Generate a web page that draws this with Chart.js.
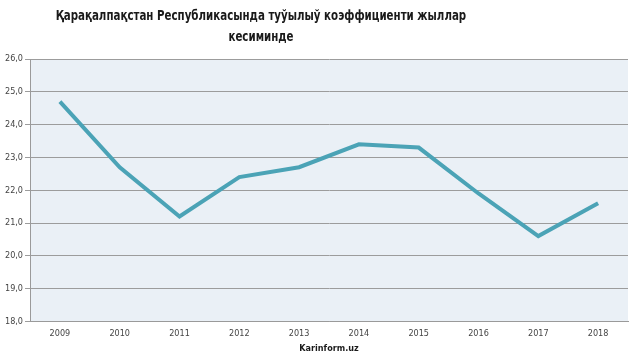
<!DOCTYPE html>
<html>
<head>
<meta charset="utf-8">
<script src="https://cdn.jsdelivr.net/npm/chart.js@4"></script>
<style>
  html, body { margin: 0; padding: 0; background: #fff; }
  #wrap { position: relative; width: 640px; height: 362px; }
  #title {
    position: absolute; left: 261px; top: 5px;
    font: bold 13.5px 'DejaVu Sans Condensed', 'Liberation Sans', sans-serif;
    line-height: 21px; color: #1a1a1a; text-align: center; white-space: nowrap;
    transform-origin: center top;
  }
</style>
</head>
<body>
<div id="wrap">
  <canvas id="chart"></canvas>
  <div id="title"></div>
</div>
<script>
const years = ["2009", "2010", "2011", "2012", "2013", "2014", "2015", "2016", "2017", "2018"];
const birthRate = [24.7, 22.7, 21.2, 22.4, 22.7, 23.4, 23.3, 21.9, 20.6, 21.6];
const titleLines = ["Қарақалпақстан Республикасында туўылыў коэффициенти жыллар", "кесиминде"];
const sourceLabel = "Karinform.uz";

const FONT = "'Liberation Sans Narrow', 'DejaVu Sans Condensed', 'Liberation Sans', sans-serif";

// title sits left of centre in the original, squeezed to ~410px
const titleEl = document.getElementById("title");
titleEl.innerHTML = titleLines.map(s => `<div>${s}</div>`).join("");
const tw = titleEl.offsetWidth;
titleEl.style.transform = `translateX(-50%) scaleX(${410 / tw})`;

const plotBg = {
    id: "plotBg",
    beforeDraw(chart) {
        const { ctx, chartArea: a } = chart;
        ctx.save();
        ctx.fillStyle = "#eaf0f6";
        ctx.fillRect(a.left, a.top, a.right - a.left, a.bottom - a.top);
        ctx.restore();
    },
};

new Chart(document.getElementById("chart"), {
    type: "line",
    data: {
        labels: years,
        datasets: [{
            data: birthRate,
            borderColor: "#4ba3b6",
            borderWidth: 4,
            pointRadius: 0,
            tension: 0,
            fill: false,
        }],
    },
    options: {
        responsive: true,
        maintainAspectRatio: false,
        animation: false,
        layout: { padding: { left: 3, right: 12, top: 59, bottom: 8 } },
        plugins: {
            legend: { display: false },
            tooltip: { enabled: false },
        },
        scales: {
            x: {
                offset: true,
                grid: { display: false, drawTicks: false },
                border: { color: "#9a9a9a", width: 1 },
                ticks: { color: "#444", font: { family: FONT, size: 9 }, padding: 7, maxRotation: 0 },
                title: {
                    display: true,
                    text: sourceLabel,
                    color: "#1a1a1a",
                    font: { family: FONT, size: 9, weight: "bold" },
                    padding: { top: -3, bottom: 0 },
                },
            },
            y: {
                min: 18,
                max: 26,
                grid: { color: "#9c9c9c", lineWidth: 1, tickLength: 5, tickColor: "#9c9c9c" },
                border: { color: "#9a9a9a", width: 1 },
                ticks: {
                    stepSize: 1,
                    color: "#444",
                    padding: 2,
                    font: { family: FONT, size: 9 },
                    callback: v => v.toFixed(1).replace(".", ","),
                },
            },
        },
    },
    plugins: [plotBg],
});
</script>
</body>
</html>
